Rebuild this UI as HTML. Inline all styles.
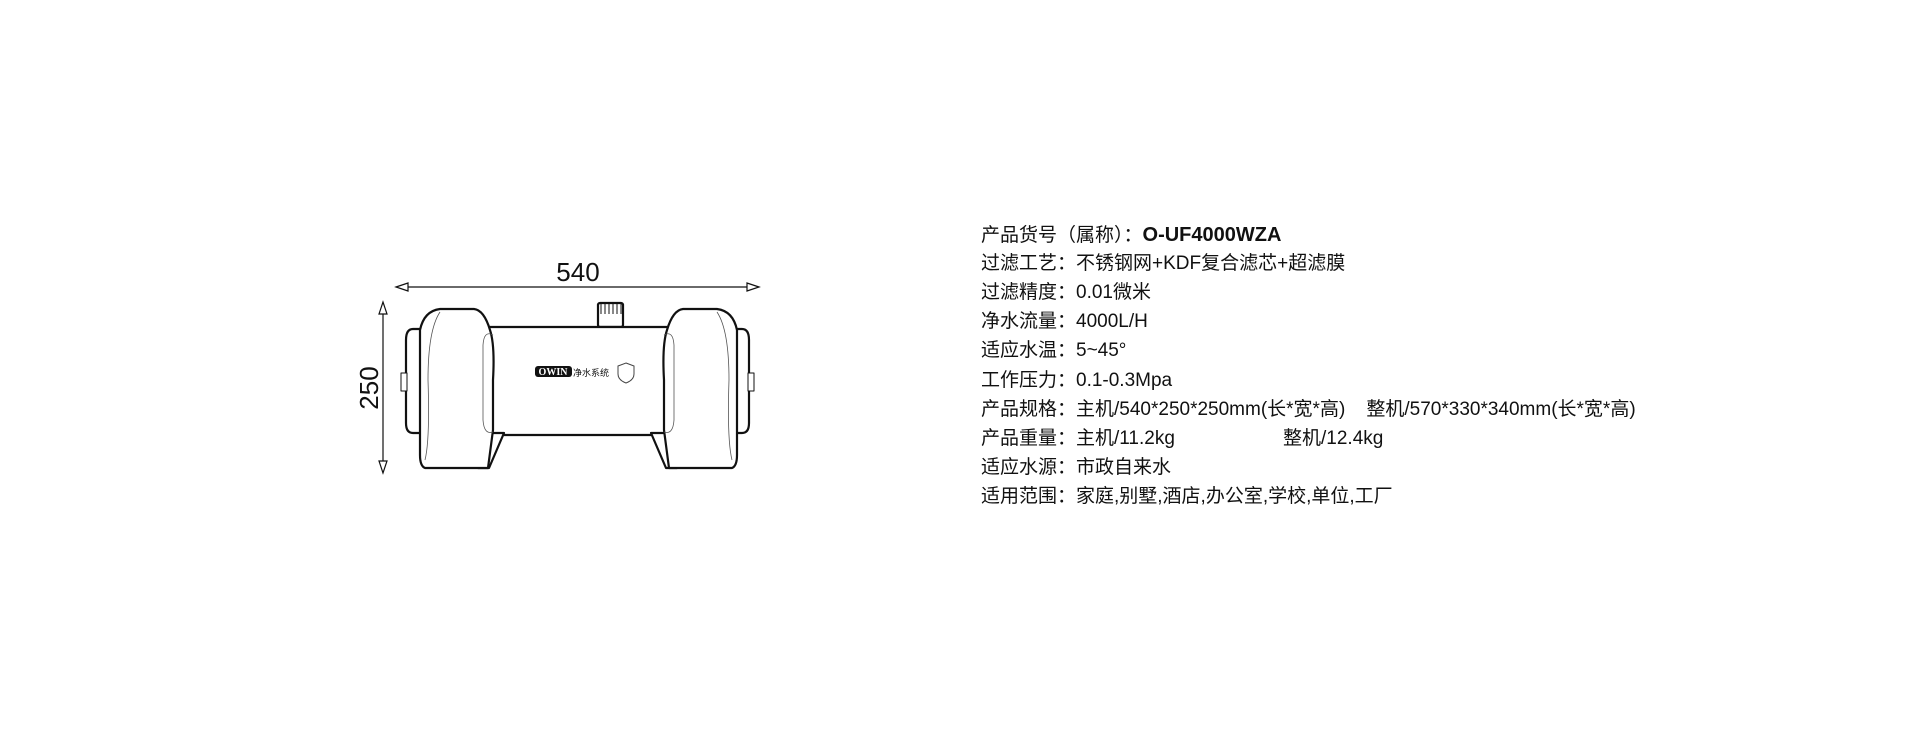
<!DOCTYPE html>
<html><head><meta charset="utf-8"><style>
html,body{margin:0;padding:0;background:#fff;width:1920px;height:742px;overflow:hidden}
.t{position:absolute;left:981px;font-family:"Liberation Sans","Noto Sans CJK SC",sans-serif;font-size:19px;color:#111;white-space:pre;line-height:22px}
</style></head><body>
<svg width="1920" height="742" style="position:absolute;left:0;top:0" xmlns="http://www.w3.org/2000/svg">
<g stroke="#111" fill="none" stroke-width="1.2">
<line x1="398" y1="287" x2="757" y2="287"/>
<path d="M396 287 L408 283 L408 291 Z" fill="#fff"/>
<path d="M759 287 L747 283 L747 291 Z" fill="#fff"/>
<line x1="383" y1="304" x2="383" y2="471"/>
<path d="M383 302 L379 314 L387 314 Z" fill="#fff"/>
<path d="M383 473 L379 461 L387 461 Z" fill="#fff"/>
</g>
<text x="578" y="281" font-family="Liberation Sans,sans-serif" font-size="26" text-anchor="middle" fill="#111">540</text>
<text transform="translate(378,388) rotate(-90)" font-family="Liberation Sans,sans-serif" font-size="26" text-anchor="middle" fill="#111">250</text>
<g stroke="#111" stroke-width="2.2" fill="#fff" stroke-linejoin="round">
<rect x="598" y="303" width="25" height="24" rx="2"/>
<path d="M601 304v10M605 304v10M609 304v10M613 304v10M617 304v10M621 304v10" stroke-width="1"/>
<path d="M413 329 Q406 329 406 340 L406 423 Q406 433 413 433 L440 433 L440 329 Z"/>
<path d="M742 329 Q749 329 749 340 L749 423 Q749 433 742 433 L715 433 L715 329 Z"/>
<rect x="401" y="373" width="6" height="18" stroke-width="1"/>
<rect x="748" y="373" width="6" height="18" stroke-width="1"/>
<rect x="478" y="327" width="200" height="108"/>
<path d="M488 433 L504 433 L489 468 L478 468 Z"/>
<path d="M667 433 L651 433 L666 468 L677 468 Z"/>
<path d="M420 330 Q424 311 440 309 L474 309 Q484 310 490 330 Q495 345 493 380 L493 430 L488 468 L425 468 Q420 466 420 455 Z"/>
<path d="M665 330 Q661 311 645 309 L611 309 Q601 310 595 330 Q590 345 592 380 L592 430 L597 468 L660 468 Q665 466 665 455 Z" transform="translate(72,0)"/>
</g>
<g stroke="#555" stroke-width="0.8" fill="none">
<path d="M493 335 Q484 330 483 345 L483 420 Q484 435 493 432"/>
<path d="M664 335 Q673 330 674 345 L674 420 Q673 435 664 432"/>
<path d="M440 312 Q428 330 428 380 Q430 440 425 460"/>
<path d="M717 312 Q729 330 729 380 Q727 440 732 460"/>
</g>
<rect x="535" y="366" width="37" height="11" rx="3" fill="#111"/>
<text x="553" y="375" font-family="Liberation Serif,serif" font-size="10" font-weight="bold" fill="#fff" text-anchor="middle">OWIN</text>
<text x="573" y="376" font-family="Noto Sans CJK SC,sans-serif" font-size="9" fill="#111">净水系统</text>
<path d="M626 363 L634 366 L634 374 Q634 380 626 383 Q618 380 618 374 L618 366 Z" fill="none" stroke="#444" stroke-width="1"/>
</svg>
<div class="t" style="top:224px"><span>产品货号（属称）：</span><b style="font-size:20px">O-UF4000WZA</b></div>
<div class="t" style="top:253px">过滤工艺：不锈钢网+KDF复合滤芯+超滤膜</div>
<div class="t" style="top:282px">过滤精度：0.01微米</div>
<div class="t" style="top:311px">净水流量：4000L/H</div>
<div class="t" style="top:340px">适应水温：5~45°</div>
<div class="t" style="top:370px">工作压力：0.1-0.3Mpa</div>
<div class="t" style="top:399px">产品规格：主机/540*250*250mm(长*宽*高)    整机/570*330*340mm(长*宽*高)</div>
<div class="t" style="top:428px">产品重量：主机/11.2kg<span style="position:absolute;left:302px">整机/12.4kg</span></div>
<div class="t" style="top:457px">适应水源：市政自来水</div>
<div class="t" style="top:486px">适用范围：家庭,别墅,酒店,办公室,学校,单位,工厂</div>
</body></html>
